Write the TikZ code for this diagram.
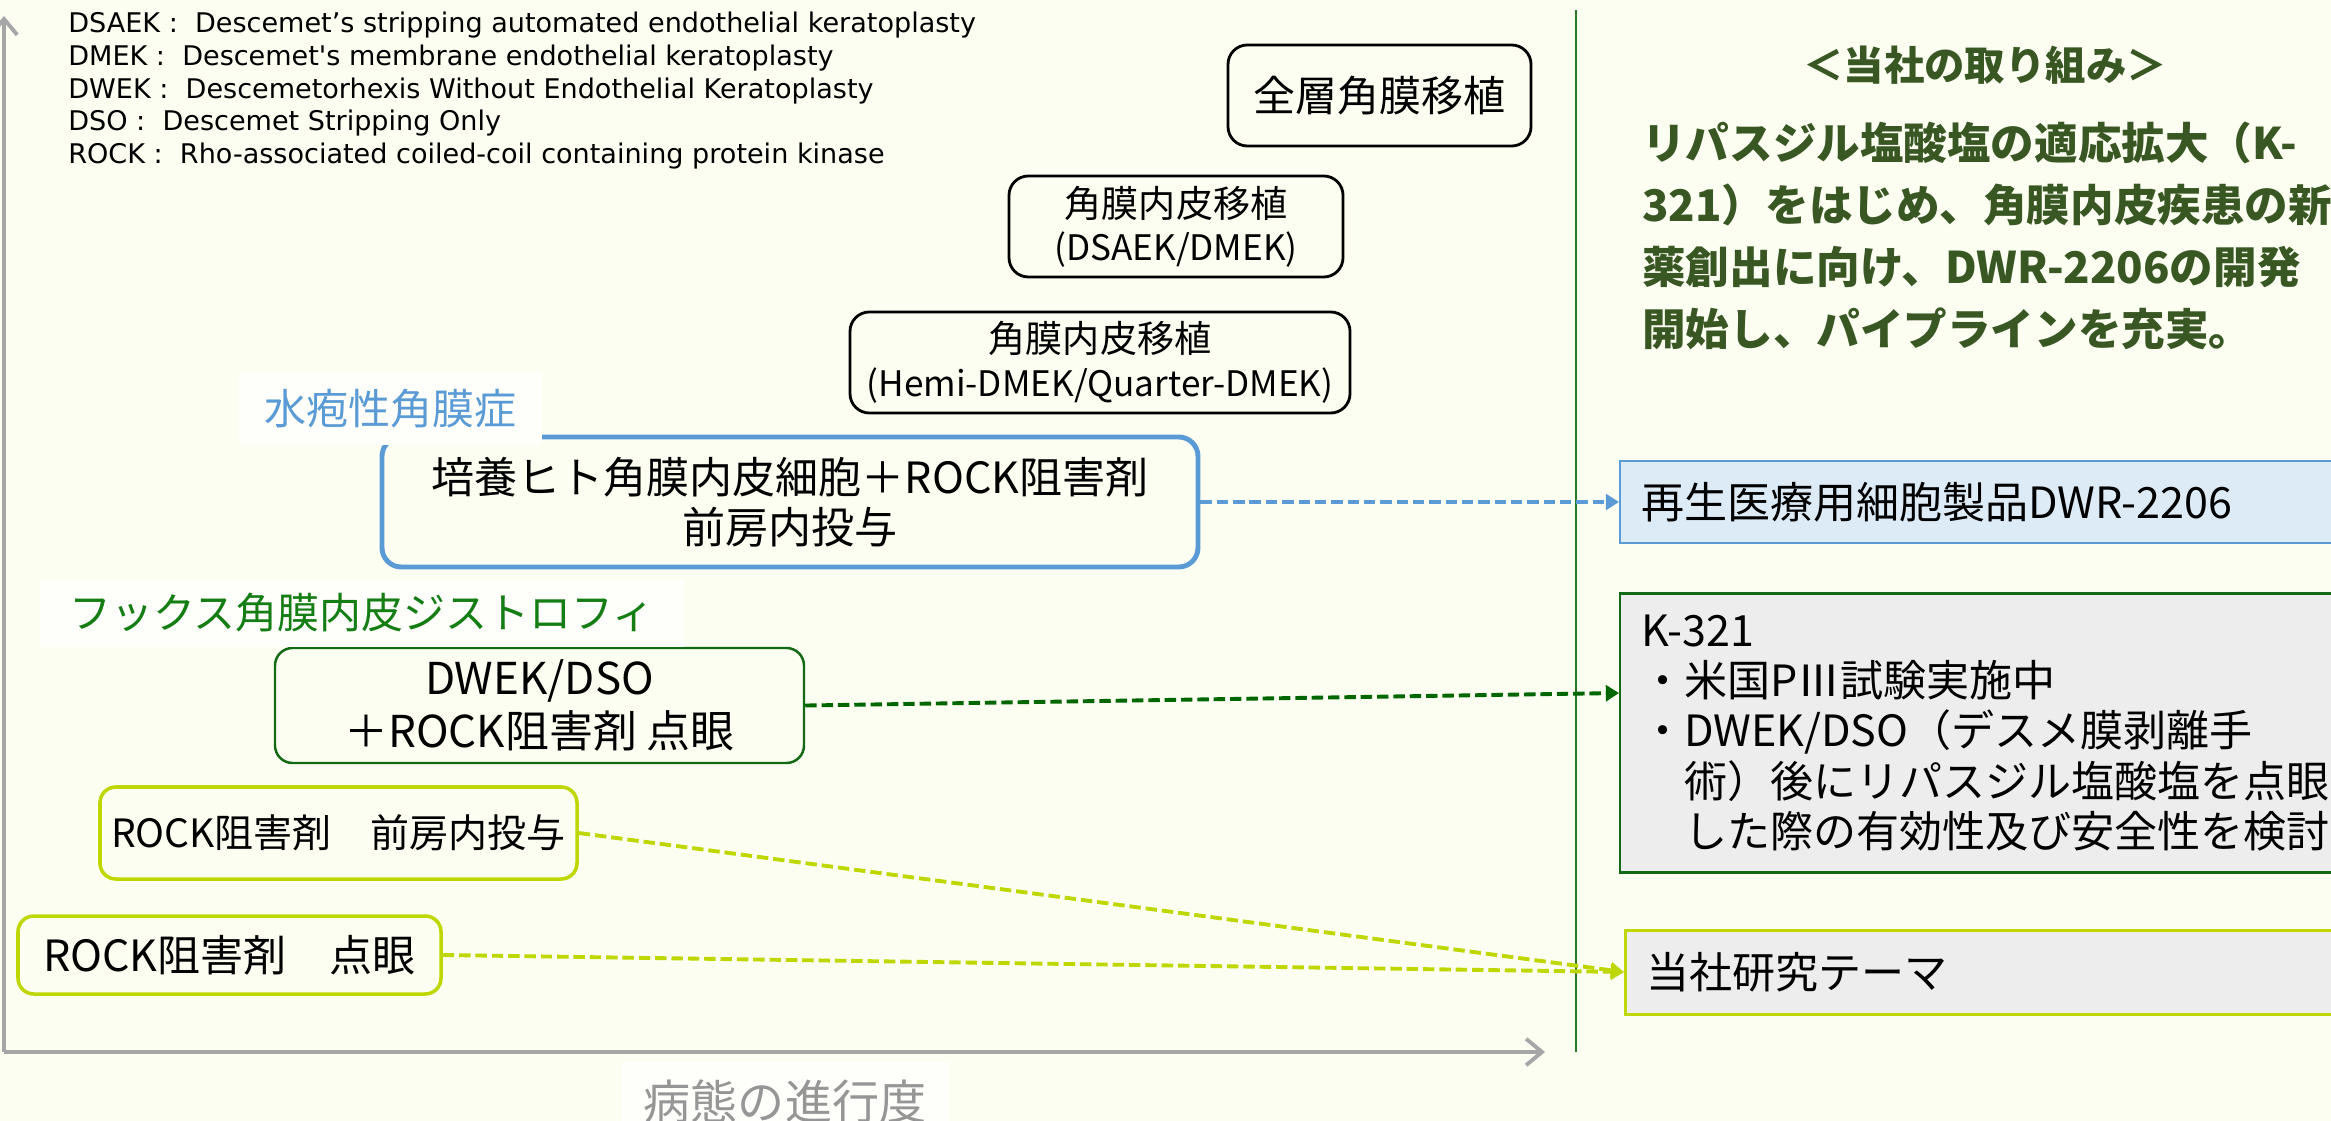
\documentclass[tikz,border=0pt]{standalone}
\usepackage{fontspec}
\setmainfont{Noto Sans CJK JP}
\newfontfamily\legendfont{DejaVu Sans}
\usepackage{tikz}
\usetikzlibrary{arrows.meta,positioning}
\newcommand{\px}{0.02cm}
\newcommand{\pxfont}[2]{\fontsize{#1pt}{#2pt}\selectfont}
\definecolor{bgcream}{RGB}{252,254,242}
\definecolor{labelbg}{RGB}{254,255,250}
\definecolor{bulblue}{RGB}{91,155,213}
\definecolor{dwrblue}{RGB}{221,235,247}
\definecolor{fuchsgreen}{RGB}{20,125,20}
\definecolor{dwekgreen}{RGB}{20,105,20}
\definecolor{arrowgreen}{RGB}{0,102,0}
\definecolor{rocklime}{RGB}{190,215,0}
\definecolor{boxgray}{RGB}{237,237,237}
\definecolor{axisgray}{RGB}{166,166,166}
\definecolor{labelgray}{RGB}{150,150,150}
\definecolor{divgreen}{RGB}{40,120,40}
\definecolor{policygreen}{RGB}{56,87,35}
\tikzset{
    surgerybox/.style={draw=black, line width=1.6pt, rounded corners=11pt, align=center, inner sep=0pt},
    cellbox/.style={draw=bulblue, line width=2.8pt, rounded corners=11pt, align=center, inner sep=0pt},
    dwekbox/.style={draw=dwekgreen, line width=1.4pt, rounded corners=10pt, align=center, inner sep=0pt},
    rockbox/.style={draw=rocklime, line width=2pt, rounded corners=9pt, align=center, inner sep=0pt},
    diseaselabel/.style={fill=labelbg, inner sep=0pt, font=\pxfont{23.9}{28}},
    pipebox/.style={line width=1.2pt, align=left, anchor=west, inner xsep=21*\px, inner ysep=0pt, text width=760*\px, font=\pxfont{24.5}{28.5}},
    dasharrow/.style={line width=2.2pt, dash pattern=on 6.5pt off 2.8pt, -{Triangle[length=7.5pt,width=9pt]}},
    axisline/.style={draw=axisgray, line width=2.2pt, -{Straight Barb[length=9pt,width=15pt]}},
    dividerline/.style={draw=divgreen, line width=1.1pt}
}

\begin{document}
\begin{tikzpicture}[x=0.02cm, y=-0.02cm]
    \useasboundingbox (0,0) rectangle (2331,1121);
    \clip (0,0) rectangle (2331,1121);
    \fill[bgcream] (0,0) rectangle (2331,1121);

    % axes and divider
    \coordinate (origin) at (4,1052);
    \coordinate (yend) at (4,16);
    \coordinate (xend) at (1545,1052);
    \coordinate (divtop) at (1576,10);
    \coordinate (divbot) at (1576,1052);
    \draw[axisline] (origin) -- (yend);
    \draw[axisline] (origin) -- (xend);
    \draw[dividerline] (divtop) -- (divbot);
    \node[fill=labelbg, text=labelgray, font=\pxfont{26.8}{30}, minimum width=327*\px, minimum height=80*\px, inner sep=0pt] (progress) at (785,1102) {病態の進行度};

    % abbreviations
    \node[anchor=north west, align=left, inner sep=0pt, font=\legendfont\pxfont{15.4}{18.6}] (abbrev) at (68,12)
        {DSAEK :\ \ Descemet’s stripping automated endothelial keratoplasty\\
         DMEK :\ \ Descemet's membrane endothelial keratoplasty\\
         DWEK :\ \ Descemetorhexis Without Endothelial Keratoplasty\\
         DSO :\ \ Descemet Stripping Only\\
         ROCK :\ \ Rho-associated coiled-coil containing protein kinase};

    % transplant options
    \node[surgerybox, minimum width=303*\px, minimum height=101*\px, font=\pxfont{23.9}{28}] (fullthick) at (1379.5,95.5) {全層角膜移植};
    \node[surgerybox, minimum width=334*\px, minimum height=101*\px, font=\pxfont{21.1}{24.5}] (dsaek) at (1176,226.5) {角膜内皮移植\\{\pxfont{20}{24.5}(DSAEK/DMEK)}};
    \node[surgerybox, minimum width=500*\px, minimum height=101*\px, font=\pxfont{21.1}{25}] (hemi) at (1100,362.5) {角膜内皮移植\\{\pxfont{20}{25}(Hemi-DMEK/Quarter-DMEK)}};

    % treatments on the left
    \node[cellbox, minimum width=816*\px, minimum height=130*\px, font=\pxfont{24.5}{28.5}] (cell) at (790,502) {培養ヒト角膜内皮細胞＋ROCK阻害剤\\前房内投与};
    \node[dwekbox, minimum width=529*\px, minimum height=115*\px, font=\pxfont{25}{30}] (dwek) at (539.5,705.5) {DWEK/DSO\\＋ROCK阻害剤 点眼};
    \node[rockbox, minimum width=477*\px, minimum height=92*\px, font=\pxfont{22.2}{26}] (rockinj) at (338.5,833) {ROCK阻害剤\hspace{1em}前房内投与};
    \node[rockbox, minimum width=423*\px, minimum height=78*\px, font=\pxfont{24.5}{28}] (rockdrop) at (229.5,955) {ROCK阻害剤\hspace{1em}点眼};

    % disease labels
    \node[diseaselabel, text=bulblue, minimum width=303*\px, minimum height=73*\px] (bullous) at (390.5,408.5) {水疱性角膜症};
    \node[diseaselabel, text=fuchsgreen, minimum width=644*\px, minimum height=67*\px] (fuchs) at (362,613) {フックス角膜内皮ジストロフィ};

    % company pipeline
    \node[font=\bfseries\pxfont{23}{27}, text=policygreen, inner sep=0pt] (effort) at (1985,65) {＜当社の取り組み＞};
    \node[anchor=west, align=left, inner sep=0pt, font=\bfseries\pxfont{24.8}{35.2}, text=policygreen] (policy) at (1642,236)
        {リパスジル塩酸塩の適応拡大（K-\\
         321）をはじめ、角膜内皮疾患の新\\
         薬創出に向け、DWR-2206の開発\\
         開始し、パイプラインを充実。};
    \node[pipebox, draw=bulblue, fill=dwrblue, minimum height=82*\px] (dwr) at (1619,502) {再生医療用細胞製品DWR-2206};
    \node[pipebox, draw=dwekgreen, fill=boxgray, minimum height=279*\px] (k321) at (1619,733)
        {K-321\\
         ・米国PⅢ試験実施中\\
         ・DWEK/DSO（デスメ膜剥離手\\
         　術）後にリパスジル塩酸塩を点眼\\
         　した際の有効性及び安全性を検討};
    \node[pipebox, draw=rocklime, fill=boxgray, line width=1.7pt, minimum height=84*\px] (theme) at (1624,972) {当社研究テーマ};

    % links
    \draw[dasharrow, bulblue] (cell.east) -- (dwr.west);
    \draw[dasharrow, arrowgreen] (dwek.east) -- ([yshift=0.8cm]k321.west);
    \draw[dasharrow, rocklime] (rockinj.east) -- (theme.west);
    \draw[dasharrow, rocklime] (rockdrop.east) -- (theme.west);
\end{tikzpicture}
\end{document}
